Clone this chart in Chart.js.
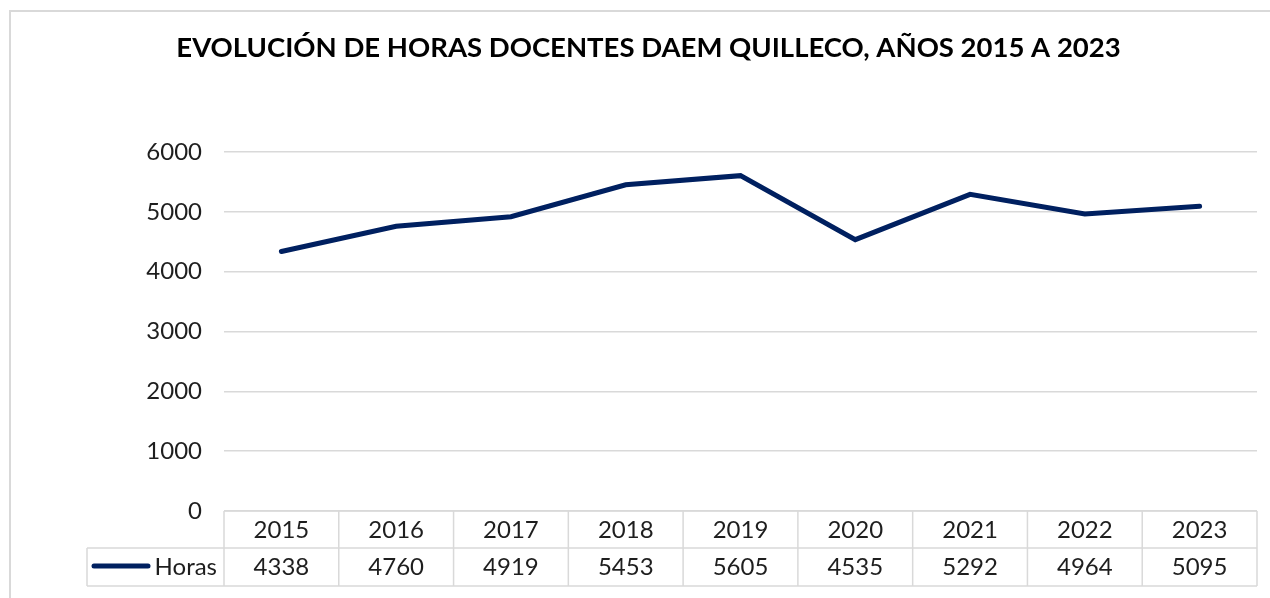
<!DOCTYPE html>
<html>
<head>
<meta charset="utf-8">
<script src="https://cdn.jsdelivr.net/npm/chart.js@4.4.1/dist/chart.umd.min.js"></script>
<style>
  html, body { margin: 0; padding: 0; background: #ffffff; }
  #wrap { width: 1270px; height: 598px; position: relative; }
</style>
</head>
<body>
<div id="wrap"><canvas id="c" width="1270" height="598"></canvas></div>
<script>
const titleText = 'EVOLUCIÓN DE HORAS DOCENTES DAEM QUILLECO, AÑOS 2015 A 2023';
const years = ['2015', '2016', '2017', '2018', '2019', '2020', '2021', '2022', '2023'];
const seriesName = 'Horas';
const horas = [4338, 4760, 4919, 5453, 5605, 4535, 5292, 4964, 5095];
const yTicks = [0, 1000, 2000, 3000, 4000, 5000, 6000];

const FONT = 'Lato, "Open Sans", sans-serif';
const TEXT_SIZE = 24;
const LINE_COLOR = '#002060';
const GRID_COLOR = '#d9d9d9';
const TEXT_COLOR = '#1e1e1e';

const frame = {
  id: 'frame',
  beforeDraw(chart) {
    const ctx = chart.ctx;
    ctx.save();
    ctx.fillStyle = '#ffffff';
    ctx.fillRect(0, 0, chart.width, chart.height);
    ctx.strokeStyle = GRID_COLOR;
    ctx.lineWidth = 2;
    ctx.strokeRect(10, 11, chart.width + 40, chart.height + 40);
    ctx.restore();
  }
};

const dataTable = {
  id: 'dataTable',
  afterDraw(chart) {
    const ctx = chart.ctx;
    const xs = chart.scales.x;
    const area = chart.chartArea;
    const top = area.bottom;
    const mid = top + 37;
    const bot = top + 75;
    const legendLeft = 87;
    const half = (xs.getPixelForValue(1) - xs.getPixelForValue(0)) / 2;
    ctx.save();
    ctx.strokeStyle = GRID_COLOR;
    ctx.lineWidth = 1.5;
    ctx.beginPath();
    ctx.moveTo(area.left, top); ctx.lineTo(area.right, top);
    ctx.moveTo(legendLeft, mid); ctx.lineTo(area.right, mid);
    ctx.moveTo(legendLeft, bot); ctx.lineTo(area.right, bot);
    ctx.moveTo(legendLeft, mid); ctx.lineTo(legendLeft, bot);
    for (let i = 0; i <= years.length; i++) {
      const x = xs.getPixelForValue(0) - half + i * 2 * half;
      ctx.moveTo(x, top); ctx.lineTo(x, bot);
    }
    ctx.stroke();

    ctx.fillStyle = TEXT_COLOR;
    ctx.font = TEXT_SIZE + 'px ' + FONT;
    ctx.textAlign = 'center';
    ctx.textBaseline = 'middle';
    years.forEach((y, i) => {
      const cx = xs.getPixelForValue(i);
      ctx.fillText(y, cx, (top + mid) / 2 + 1);
      ctx.fillText(String(horas[i]), cx, (mid + bot) / 2);
    });

    // legend key
    ctx.strokeStyle = LINE_COLOR;
    ctx.lineWidth = 5;
    ctx.lineCap = 'round';
    ctx.beginPath();
    ctx.moveTo(94, (mid + bot) / 2 - 1);
    ctx.lineTo(148, (mid + bot) / 2 - 1);
    ctx.stroke();
    ctx.textAlign = 'right';
    ctx.fillText(seriesName, area.left - 7, (mid + bot) / 2);
    ctx.restore();
  }
};

new Chart(document.getElementById('c'), {
  type: 'line',
  data: {
    labels: years,
    datasets: [{
      label: seriesName,
      data: horas,
      borderColor: LINE_COLOR,
      backgroundColor: LINE_COLOR,
      borderWidth: 5,
      pointRadius: 0,
      pointHoverRadius: 0,
      tension: 0,
      borderCapStyle: 'round',
      borderJoinStyle: 'miter',
      fill: false
    }]
  },
  options: {
    responsive: false,
    animation: false,
    events: [],
    layout: { padding: { left: 40, right: 13, top: 0, bottom: 87 } },
    plugins: {
      legend: { display: false },
      tooltip: { enabled: false },
      title: {
        display: true,
        text: titleText,
        color: '#000000',
        font: { family: FONT, size: 27.5, weight: 'bold' },
        padding: { top: 32, bottom: 87 }
      }
    },
    scales: {
      x: {
        type: 'category',
        offset: true,
        display: false
      },
      y: {
        min: 0,
        max: 6000,
        afterBuildTicks(scale) { scale.ticks = yTicks.map(v => ({ value: v })); },
        afterFit(scale) { scale.width = 184; },
        border: { display: false },
        grid: { color: GRID_COLOR, lineWidth: 1.5, drawTicks: false },
        ticks: {
          color: TEXT_COLOR,
          padding: 22,
          font: { family: FONT, size: TEXT_SIZE },
          callback: (v) => String(v)
        }
      }
    }
  },
  plugins: [frame, dataTable]
});
</script>
</body>
</html>
